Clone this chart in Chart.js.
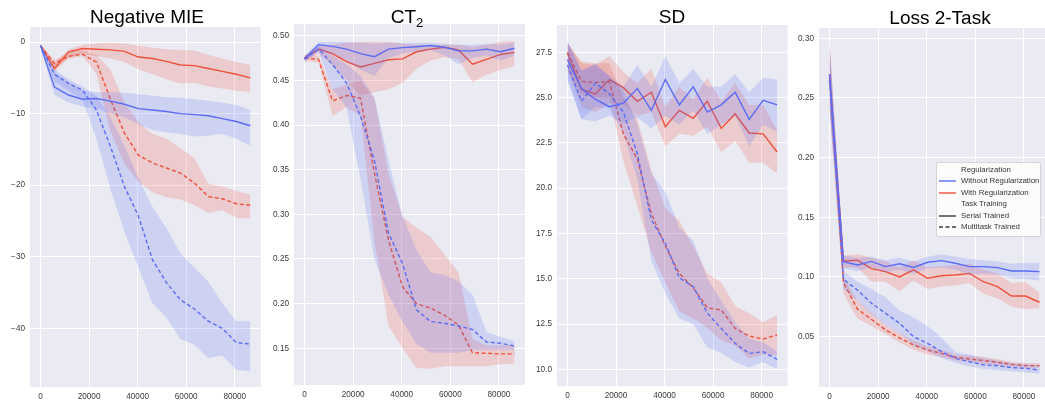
<!DOCTYPE html>
<html>
<head>
<meta charset="utf-8">
<script src="https://cdn.jsdelivr.net/npm/chart.js@4.4.1/dist/chart.umd.min.js"></script>
<style>
body{margin:0;width:1045px;height:404px;overflow:hidden;background:#fff;position:relative;font-family:"Liberation Sans",Arial,sans-serif}
.panel{position:absolute;z-index:1}
.title{position:absolute;z-index:2;font-size:19px;line-height:19px;color:#000;transform:translateX(-50%);white-space:nowrap}
.title sub{font-size:13px;line-height:0;vertical-align:-4px}
#legend{position:absolute;z-index:3;left:936px;top:162px;width:103px;height:73px;background:rgba(255,255,255,0.85);border:1px solid #d6d6d6;border-radius:2px;font-size:7.8px;color:#333}
#legend .row{position:absolute;left:24px;white-space:nowrap;line-height:10px}
#legend svg{position:absolute;left:2px}
</style>
</head>
<body>
<div class="title" style="left:147px;top:7px">Negative MIE</div>
<div class="title" style="left:407px;top:7px">CT<sub>2</sub></div>
<div class="title" style="left:672px;top:7px">SD</div>
<div class="title" style="left:940px;top:8px">Loss 2-Task</div>

<div class="panel" id="p1"><canvas id="c1"></canvas></div>
<div class="panel" id="p2"><canvas id="c2"></canvas></div>
<div class="panel" id="p3"><canvas id="c3"></canvas></div>
<div class="panel" id="p4"><canvas id="c4"></canvas></div>

<div id="legend">
  <div class="row" style="top:2px">Regularization</div>
  <svg style="top:13px" width="20" height="10"><line x1="0" y1="5" x2="17" y2="5" stroke="rgb(92,108,245)" stroke-width="1.4"/></svg>
  <div class="row" style="top:13px">Without Regularization</div>
  <svg style="top:25px" width="20" height="10"><line x1="0" y1="5" x2="17" y2="5" stroke="rgb(238,82,58)" stroke-width="1.4"/></svg>
  <div class="row" style="top:25px">With Regularization</div>
  <div class="row" style="top:36px">Task Training</div>
  <svg style="top:48px" width="20" height="10"><line x1="0" y1="5" x2="17" y2="5" stroke="#3a3a3a" stroke-width="1.4"/></svg>
  <div class="row" style="top:48px">Serial Trained</div>
  <svg style="top:59px" width="20" height="10"><line x1="0" y1="5" x2="17" y2="5" stroke="#3a3a3a" stroke-width="1.4" stroke-dasharray="4,2.5"/></svg>
  <div class="row" style="top:59px">Multitask Trained</div>
</div>

<script>
// training steps
var steps = [0,5760,11520,17280,23040,28800,34560,40320,46080,51840,57600,63360,69120,74880,80640,86400];
var xTicks = [0,20000,40000,60000,80000];

// Negative MIE
var mieTicks = [-40,-30,-20,-10,0];
var mieBlueSerial   = [-0.5,-6.3,-7.4,-8.0,-7.9,-8.25,-8.7,-9.3,-9.5,-9.7,-10.0,-10.15,-10.3,-10.7,-11.1,-11.7];
var mieBlueSerialHi = [-0.3,-4.2,-5.5,-6.8,-7.0,-7.0,-7.1,-7.3,-7.5,-7.7,-7.8,-8.0,-8.2,-8.5,-8.8,-9.5];
var mieBlueSerialLo = [-0.7,-7.4,-8.4,-9.0,-9.3,-10.0,-10.5,-11.5,-12.3,-12.6,-12.8,-13.2,-13.1,-12.8,-13.5,-14.5];
var mieBlueMulti    = [-0.5,-4.5,-5.8,-6.7,-9.5,-14.6,-20.2,-24.3,-30.4,-33.6,-36.0,-37.3,-39.0,-40.0,-42.0,-42.2];
var mieBlueMultiHi  = [-0.3,-3.8,-5.2,-6.2,-7.5,-10.5,-14.5,-19.0,-23.0,-26.0,-29.5,-31.5,-33.5,-36.5,-39.0,-39.0];
var mieBlueMultiLo  = [-0.7,-5.5,-6.8,-8.0,-13.5,-20.5,-26.5,-31.5,-36.5,-38.5,-41.5,-42.3,-44.2,-43.8,-45.8,-46.0];
var mieRedSerial    = [-0.5,-3.7,-1.4,-0.9,-1.0,-1.1,-1.3,-2.1,-2.3,-2.7,-3.2,-3.3,-3.7,-4.1,-4.5,-5.0];
var mieRedSerialHi  = [-0.3,-3.0,-1.0,-0.4,-0.2,-0.1,-0.2,-0.5,-0.8,-1.0,-1.1,-1.2,-1.8,-2.3,-2.8,-3.2];
var mieRedSerialLo  = [-0.7,-4.2,-2.2,-1.6,-2.0,-2.3,-2.8,-3.8,-4.5,-5.2,-5.8,-5.7,-6.2,-6.5,-6.8,-7.0];
var mieRedMulti     = [-0.5,-3.0,-2.0,-1.7,-2.8,-8.0,-12.7,-15.8,-16.9,-17.6,-18.3,-19.7,-21.6,-21.9,-22.6,-22.8];
var mieRedMultiHi   = [-0.3,-2.5,-1.5,-1.2,-1.8,-3.8,-8.5,-11.2,-12.8,-13.5,-14.8,-16.2,-19.8,-20.2,-20.8,-21.3];
var mieRedMultiLo   = [-0.7,-3.8,-2.3,-2.0,-4.5,-12.5,-17.0,-19.5,-21.0,-21.7,-22.0,-22.8,-23.9,-23.5,-24.5,-24.7];

// CT2
var ctTicks = [0.15,0.20,0.25,0.30,0.35,0.40,0.45,0.50];
var ctBlueSerial   = [0.474,0.490,0.488,0.485,0.480,0.4765,0.485,0.4866,0.4877,0.489,0.487,0.483,0.483,0.485,0.482,0.486];
var ctBlueSerialHi = [0.477,0.493,0.493,0.493,0.492,0.491,0.492,0.492,0.492,0.492,0.491,0.490,0.490,0.491,0.490,0.492];
var ctBlueSerialLo = [0.471,0.483,0.480,0.472,0.462,0.455,0.475,0.480,0.482,0.484,0.478,0.468,0.475,0.478,0.472,0.478];
var ctBlueMulti    = [0.474,0.485,0.468,0.447,0.410,0.360,0.279,0.245,0.193,0.180,0.178,0.175,0.171,0.157,0.1556,0.1526];
var ctBlueMultiHi  = [0.477,0.489,0.478,0.468,0.455,0.430,0.360,0.298,0.260,0.235,0.232,0.225,0.210,0.168,0.163,0.158];
var ctBlueMultiLo  = [0.471,0.482,0.440,0.420,0.340,0.250,0.210,0.180,0.155,0.145,0.145,0.145,0.148,0.148,0.148,0.148];
var ctRedSerial    = [0.475,0.485,0.480,0.471,0.465,0.469,0.473,0.474,0.482,0.485,0.487,0.484,0.468,0.4735,0.479,0.4813];
var ctRedSerialHi  = [0.478,0.489,0.490,0.492,0.493,0.493,0.493,0.491,0.490,0.490,0.490,0.490,0.487,0.490,0.493,0.494];
var ctRedSerialLo  = [0.472,0.480,0.467,0.450,0.433,0.437,0.440,0.447,0.463,0.472,0.476,0.474,0.448,0.456,0.462,0.466];
var ctRedMulti     = [0.475,0.4735,0.427,0.433,0.430,0.346,0.271,0.219,0.200,0.195,0.187,0.176,0.145,0.1444,0.1437,0.1437];
var ctRedMultiHi   = [0.478,0.478,0.440,0.445,0.450,0.430,0.345,0.297,0.285,0.275,0.255,0.235,0.160,0.153,0.153,0.153];
var ctRedMultiLo   = [0.472,0.470,0.410,0.420,0.410,0.270,0.175,0.150,0.128,0.127,0.130,0.130,0.130,0.130,0.132,0.133];

// SD
var sdTicks = [10.0,12.5,15.0,17.5,20.0,22.5,25.0,27.5];
var sdBlueSerial   = [27.1,25.5,24.9,24.5,24.7,25.5,24.3,26.0,24.6,25.6,24.2,24.6,25.3,23.8,24.85,24.6];
var sdBlueSerialHi = [28.1,26.5,26.8,26.2,25.6,26.8,25.6,27.3,25.8,26.6,25.6,25.6,26.3,25.3,26.1,26.0];
var sdBlueSerialLo = [26.0,23.8,23.7,24.0,23.6,23.9,23.3,24.0,23.5,24.3,23.0,23.5,24.0,22.3,23.5,23.1];
var sdBlueMulti    = [26.8,24.8,25.8,25.2,24.2,21.9,18.25,16.95,15.06,14.56,13.1,12.26,11.43,10.88,10.97,10.55];
var sdBlueMultiHi  = [28.1,26.5,26.9,26.2,25.4,23.5,20.8,19.8,17.8,17.1,15.0,13.8,12.6,11.7,11.5,11.0];
var sdBlueMultiLo  = [26.0,23.8,24.5,24.4,23.0,20.5,16.0,14.2,12.8,12.5,11.2,10.9,10.4,10.1,10.4,10.0];
var sdRedSerial    = [27.45,25.45,25.2,26.0,25.55,24.8,25.3,23.4,24.3,23.85,24.8,23.3,24.1,23.05,23.0,22.0];
var sdRedSerialHi  = [28.0,26.9,26.8,27.3,26.4,25.8,26.6,24.5,25.6,24.9,26.1,24.8,25.8,24.6,24.6,23.2];
var sdRedSerialLo  = [26.5,24.5,24.2,24.7,24.6,24.0,24.2,22.3,23.0,22.9,23.4,22.0,22.6,21.4,21.4,20.8];
var sdRedMulti     = [27.5,25.9,25.83,25.88,23.0,21.6,18.6,16.8,15.3,14.5,13.4,13.28,12.26,11.84,11.67,11.9];
var sdRedMultiHi   = [28.0,27.0,26.9,26.9,25.0,23.8,21.0,18.9,18.2,16.8,15.3,14.8,13.5,13.1,12.6,13.0];
var sdRedMultiLo   = [26.5,25.2,25.0,25.0,21.5,19.0,16.5,14.8,13.2,12.8,12.3,11.6,11.3,10.6,10.8,10.8];

// Loss 2-Task
var lossTicks = [0.05,0.10,0.15,0.20,0.25,0.30];
var lossBlueSerial   = [0.270,0.1128,0.110,0.113,0.1087,0.111,0.108,0.1123,0.1137,0.1115,0.1087,0.1087,0.1078,0.105,0.105,0.1045];
var lossBlueSerialHi = [0.297,0.118,0.116,0.117,0.114,0.116,0.113,0.117,0.119,0.117,0.115,0.114,0.113,0.111,0.112,0.112];
var lossBlueSerialLo = [0.243,0.107,0.105,0.108,0.104,0.106,0.103,0.107,0.108,0.106,0.102,0.103,0.102,0.099,0.098,0.097];
var lossBlueMulti    = [0.265,0.098,0.089,0.078,0.0696,0.0612,0.050,0.0444,0.0374,0.0318,0.029,0.0263,0.0257,0.024,0.0235,0.022];
var lossBlueMultiHi  = [0.295,0.105,0.096,0.090,0.083,0.072,0.066,0.059,0.049,0.037,0.035,0.032,0.030,0.028,0.027,0.026];
var lossBlueMultiLo  = [0.240,0.090,0.080,0.069,0.060,0.053,0.043,0.038,0.032,0.028,0.025,0.023,0.022,0.021,0.020,0.019];
var lossRedSerial    = [0.270,0.1134,0.114,0.107,0.1045,0.100,0.106,0.0989,0.101,0.1017,0.103,0.096,0.0919,0.084,0.084,0.0788];
var lossRedSerialHi  = [0.297,0.118,0.119,0.116,0.113,0.108,0.114,0.108,0.109,0.110,0.111,0.106,0.103,0.095,0.096,0.087];
var lossRedSerialLo  = [0.243,0.108,0.108,0.096,0.096,0.088,0.097,0.090,0.092,0.093,0.095,0.086,0.082,0.075,0.073,0.074];
var lossRedMulti     = [0.268,0.0953,0.073,0.0645,0.0556,0.049,0.043,0.0388,0.036,0.0327,0.0313,0.030,0.0285,0.0268,0.0257,0.0257];
var lossRedMultiHi   = [0.296,0.100,0.080,0.070,0.060,0.053,0.047,0.042,0.039,0.035,0.034,0.033,0.031,0.029,0.028,0.028];
var lossRedMultiLo   = [0.242,0.086,0.065,0.059,0.052,0.045,0.039,0.035,0.033,0.030,0.029,0.027,0.026,0.025,0.024,0.024];

var BLUE = 'rgb(92,108,245)', BLUE_FILL = 'rgba(92,108,245,0.2)';
var RED = 'rgb(238,82,58)', RED_FILL = 'rgba(238,82,58,0.2)';
var YW = 34, PT = 12, XH = 20;

var bgPlugin = {
    id:'bg',
    beforeDraw:function(chart){
        var a = chart.chartArea, ctx = chart.ctx;
        ctx.save();
        ctx.fillStyle = '#eaeaf2';
        ctx.fillRect(a.left, a.top, a.right - a.left, a.bottom - a.top);
        ctx.restore();
    }
};

function pts(ys){
    return ys.map(function(y,i){ return {x:steps[i], y:y}; });
}

function serie(list, mean, hi, lo, color, fill, dashed){
    list.push({data:pts(hi), borderWidth:0, pointRadius:0, fill:false, borderColor:'rgba(0,0,0,0)'});
    list.push({data:pts(lo), borderWidth:0, pointRadius:0, fill:'-1', backgroundColor:fill, borderColor:'rgba(0,0,0,0)'});
    list.push({data:pts(mean), borderWidth:1.4, pointRadius:0, fill:false, borderColor:color, borderDash:dashed ? [4,2.5] : []});
}

function makePanel(n, box, yMin, yMax, yTicks, fmt, groups){
    var div = document.getElementById('p'+n);
    div.style.left = (box.l - YW) + 'px';
    div.style.top = (box.t - PT) + 'px';
    div.style.width = (box.r - box.l + YW) + 'px';
    div.style.height = (box.b - box.t + PT + XH) + 'px';
    var ds = [];
    serie(ds, groups[0], groups[1], groups[2], BLUE, BLUE_FILL, false);
    serie(ds, groups[3], groups[4], groups[5], BLUE, BLUE_FILL, true);
    serie(ds, groups[6], groups[7], groups[8], RED, RED_FILL, false);
    serie(ds, groups[9], groups[10], groups[11], RED, RED_FILL, true);
    var tickFont = {family:'"Liberation Sans", Arial, sans-serif', size:8.2};
    return new Chart(document.getElementById('c'+n), {
        type:'line',
        data:{datasets:ds},
        plugins:[bgPlugin],
        options:{
            responsive:true,
            maintainAspectRatio:false,
            animation:false,
            layout:{padding:{top:PT, right:0, bottom:0, left:0}},
            plugins:{legend:{display:false}, tooltip:{enabled:false}},
            elements:{line:{tension:0}},
            scales:{
                x:{
                    type:'linear', min:-4320, max:90720,
                    afterBuildTicks:function(s){ s.ticks = xTicks.map(function(v){ return {value:v}; }); },
                    afterFit:function(s){ s.height = XH; },
                    grid:{color:'#ffffff', lineWidth:1, drawTicks:false},
                    border:{display:false},
                    ticks:{padding:5, color:'#3a3a3a', font:tickFont, maxRotation:0,
                        callback:function(v){ return String(v); }}
                },
                y:{
                    type:'linear', min:yMin, max:yMax,
                    afterBuildTicks:function(s){ s.ticks = yTicks.map(function(v){ return {value:v}; }); },
                    afterFit:function(s){ s.width = YW; },
                    grid:{color:'#ffffff', lineWidth:1, drawTicks:false},
                    border:{display:false},
                    ticks:{padding:5, color:'#3a3a3a', font:tickFont, callback:fmt}
                }
            }
        }
    });
}

function minusFmt(v){ return v < 0 ? '\u2212' + Math.abs(v) : String(v); }

makePanel(1, {l:29.5, t:27, r:261, b:387}, -48.2, 2.1, mieTicks, minusFmt,
    [mieBlueSerial, mieBlueSerialHi, mieBlueSerialLo, mieBlueMulti, mieBlueMultiHi, mieBlueMultiLo,
     mieRedSerial, mieRedSerialHi, mieRedSerialLo, mieRedMulti, mieRedMultiHi, mieRedMultiLo]);
makePanel(2, {l:294, t:24, r:525, b:385}, 0.1089, 0.5131, ctTicks, function(v){ return v.toFixed(2); },
    [ctBlueSerial, ctBlueSerialHi, ctBlueSerialLo, ctBlueMulti, ctBlueMultiHi, ctBlueMultiLo,
     ctRedSerial, ctRedSerialHi, ctRedSerialLo, ctRedMulti, ctRedMultiHi, ctRedMultiLo]);
makePanel(3, {l:557.2, t:25, r:788.5, b:386}, 9.08, 29.01, sdTicks, function(v){ return v.toFixed(1); },
    [sdBlueSerial, sdBlueSerialHi, sdBlueSerialLo, sdBlueMulti, sdBlueMultiHi, sdBlueMultiLo,
     sdRedSerial, sdRedSerialHi, sdRedSerialLo, sdRedMulti, sdRedMultiHi, sdRedMultiLo]);
makePanel(4, {l:818.5, t:28, r:1049.5, b:387}, 0.0078, 0.3086, lossTicks, function(v){ return v.toFixed(2); },
    [lossBlueSerial, lossBlueSerialHi, lossBlueSerialLo, lossBlueMulti, lossBlueMultiHi, lossBlueMultiLo,
     lossRedSerial, lossRedSerialHi, lossRedSerialLo, lossRedMulti, lossRedMultiHi, lossRedMultiLo]);
</script>
</body>
</html>
